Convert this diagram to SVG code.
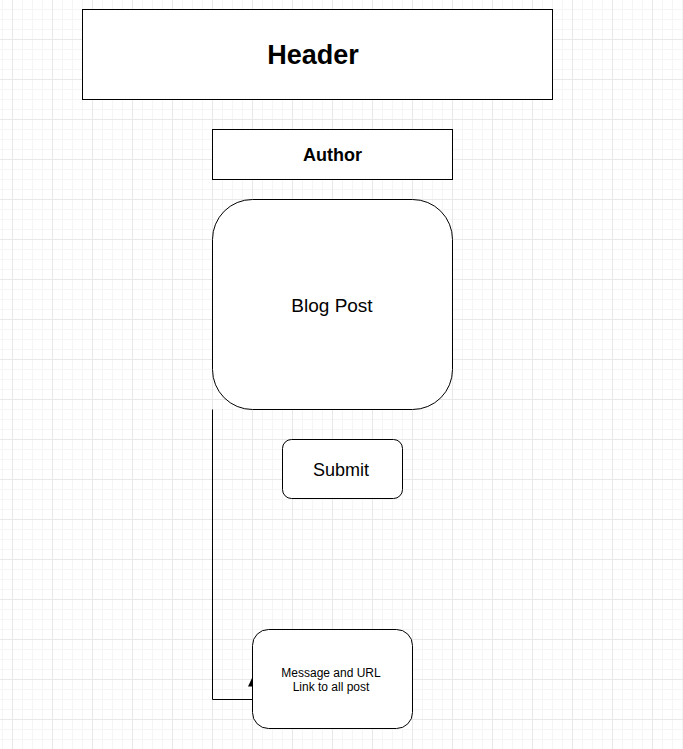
<svg xmlns="http://www.w3.org/2000/svg" width="683" height="749" viewBox="0 0 683 749">
<defs>
<pattern id="minor" width="10" height="10" patternUnits="userSpaceOnUse" x="2" y="-1">
<path d="M0 0.5H10M0.5 0V10" fill="none" stroke="#f5f5f5" stroke-width="1"/>
</pattern>
<pattern id="major" width="40" height="40" patternUnits="userSpaceOnUse" x="12" y="-1">
<path d="M0 0.5H40M0.5 0V40" fill="none" stroke="#e8e8e8" stroke-width="1"/>
</pattern>
</defs>
<style>
.box{fill:#fff;stroke:#000;stroke-width:1}
.t{font-family:"Liberation Sans",Arial,Helvetica,sans-serif;fill:#000;text-anchor:middle;dominant-baseline:central}
</style>
<rect width="683" height="749" fill="#fff"/>
<rect width="683" height="749" fill="url(#minor)"/>
<rect width="683" height="749" fill="url(#major)"/>
<g id="connectors">
<path d="M212.5 409.5V699.5H252.5" fill="none" stroke="#000" stroke-width="1"/>
<polygon points="248,686.5 252.5,677 252.5,686.5" fill="#000"/>
</g>
<g id="header">
<rect class="box" x="82.5" y="9.5" width="470" height="90"/>
<text class="t" x="313" y="55" font-size="27" font-weight="bold">Header</text>
</g>
<g id="author">
<rect class="box" x="212.5" y="129.5" width="240" height="50"/>
<text class="t" x="332.5" y="155" font-size="18" font-weight="bold">Author</text>
</g>
<g id="blogpost">
<rect class="box" x="212.5" y="199.5" width="240" height="210" rx="40" ry="40"/>
<text class="t" x="332" y="305" font-size="19">Blog Post</text>
</g>
<g id="submit">
<rect class="box" x="282.5" y="439.5" width="120" height="59" rx="9" ry="9"/>
<text class="t" x="341" y="470" font-size="18">Submit</text>
</g>
<g id="message">
<rect class="box" x="252.5" y="629.5" width="160" height="99" rx="16" ry="16"/>
<text class="t" x="331" y="673" font-size="12">Message and URL</text>
<text class="t" x="331" y="687" font-size="12">Link to all post</text>
</g>
</svg>
